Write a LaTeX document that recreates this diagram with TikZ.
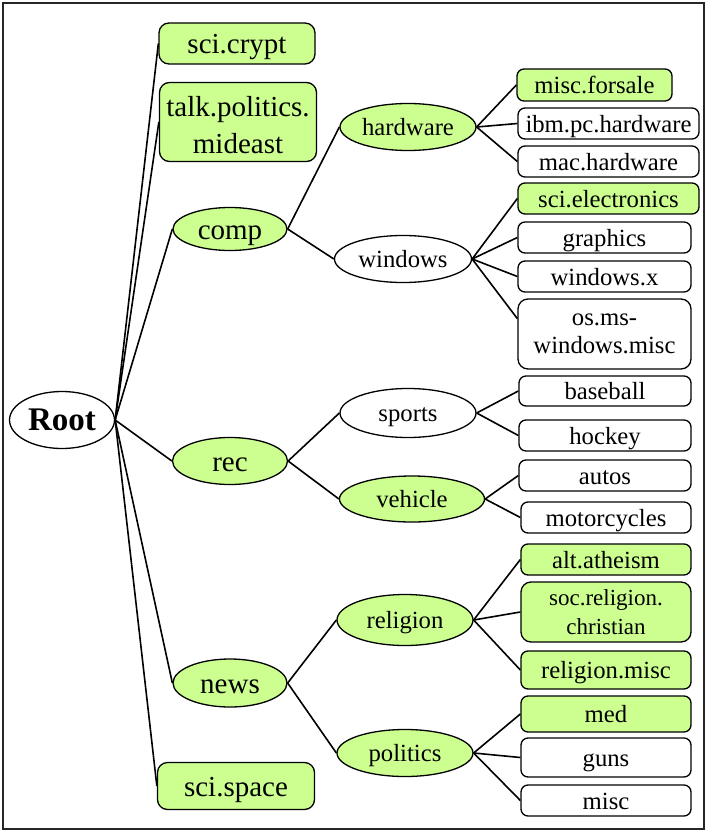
\documentclass[tikz,border=0pt]{standalone}
\usepackage{fontspec}
\setmainfont{Liberation Serif}
\usetikzlibrary{shapes.geometric}
\definecolor{leafgreen}{RGB}{204,255,144}
\begin{document}
\begin{tikzpicture}[x=1pt,y=-1pt,
  every node/.style={inner sep=0pt, line width=1.3pt, draw=black, align=center},
  ell/.style={ellipse},
  box/.style={rectangle, rounded corners=7pt},
  bigbox/.style={rectangle, rounded corners=10pt},
  txt/.style={draw=none, fill=none},
  hl/.style={fill=leafgreen},
  fA/.style={font=\fontsize{29}{37}\selectfont},
  fB/.style={font=\fontsize{24.7}{30}\selectfont},
  fC/.style={font=\fontsize{23}{29}\selectfont},
  tA/.style={fA, text height=20.3pt, text depth=0pt},
  tB/.style={fB, text height=17.8pt, text depth=0pt},
  edge/.style={line width=1.6pt, draw=black}]
\useasboundingbox (0,0) rectangle (709,832);
\draw[line width=1.5pt, draw=black!85] (3,3) rectangle (704,829);

% root
\node[ellipse, text height=21.5pt, text depth=0pt, minimum width=105pt, minimum height=57pt, font=\fontsize{33}{38}\selectfont\bfseries] (root) at (62,420) {Root};

% level 1
\node[bigbox, hl, tA, minimum width=156pt, minimum height=41pt] (crypt) at (237,43.5) {sci.crypt};
\node[bigbox, hl, minimum width=157pt, minimum height=79pt] (mideast) at (238,122) {};
\node[txt, fA] (mideast-t) at (238,125) {talk.politics.\\mideast};
\node[ell, hl, tA, minimum width=114pt, minimum height=43pt] (comp) at (230,229) {comp};
\node[ell, hl, tA, minimum width=115pt, minimum height=47pt] (rec) at (230,461) {rec};
\node[ell, hl, tA, minimum width=114pt, minimum height=48pt] (news) at (230,683) {news};
\node[bigbox, hl, tA, minimum width=157pt, minimum height=47pt] (space) at (236,786) {sci.space};

% level 2
\node[ell, hl, tB, minimum width=136pt, minimum height=47pt] (hardware) at (408,127) {hardware};
\node[ell, tB, minimum width=137pt, minimum height=47pt] (windows) at (403,259) {windows};
\node[ell, tB, minimum width=136pt, minimum height=49pt] (sports) at (408,413) {sports};
\node[ell, hl, tB, minimum width=145pt, minimum height=46pt] (vehicle) at (412,499) {vehicle};
\node[ell, hl, tB, minimum width=136pt, minimum height=51pt] (religion) at (405,620) {religion};
\node[ell, hl, tB, minimum width=136pt, minimum height=47pt] (politics) at (405,753) {politics};

% leaves
\node[box, hl, tB, minimum width=155pt, minimum height=32pt] (forsale) at (594.5,85) {misc.forsale};
\node[box, tB, minimum width=181pt, minimum height=31pt] (ibm) at (608.5,123.5) {ibm.pc.hardware};
\node[box, tB, minimum width=181pt, minimum height=31pt] (mac) at (608.5,161.5) {mac.hardware};
\node[box, hl, tB, minimum width=181pt, minimum height=31pt] (elec) at (608.5,198.5) {sci.electronics};
\node[box, tB, minimum width=173pt, minimum height=31pt] (graphics) at (604.5,237.5) {graphics};
\node[box, tB, minimum width=173pt, minimum height=31pt] (winx) at (604.5,276.5) {windows.x};
\node[bigbox, font=\fontsize{24.7}{28.5}\selectfont, minimum width=173pt, minimum height=70pt] (osms) at (604.5,334) {os.ms-\\windows.misc};
\node[box, tB, minimum width=172pt, minimum height=30pt] (baseball) at (605,391) {baseball};
\node[box, tB, minimum width=172pt, minimum height=31pt] (hockey) at (605,435.5) {hockey};
\node[box, tB, minimum width=172pt, minimum height=31pt] (autos) at (605,475.5) {autos};
\node[box, tB, minimum width=170pt, minimum height=31pt] (moto) at (606,517.5) {motorcycles};
\node[box, hl, tB, minimum width=170pt, minimum height=31pt] (atheism) at (606,559.5) {alt.atheism};
\node[bigbox, hl, fC, minimum width=170pt, minimum height=60pt] (christian) at (606,612) {soc.religion.\\christian};
\node[box, hl, tB, minimum width=170pt, minimum height=38pt] (relmisc) at (606,670) {religion.misc};
\node[box, hl, tB, minimum width=170pt, minimum height=36pt] (med) at (606,714) {med};
\node[box, tB, minimum width=170pt, minimum height=39pt] (guns) at (606,757.5) {guns};
\node[box, tB, minimum width=170pt, minimum height=31pt] (misc) at (606,800.5) {misc};

% edges
\foreach \c in {crypt,mideast,comp,rec,news,space}
  \draw[edge] (root.east) -- (\c.west);
\draw[edge] (comp.east) -- (hardware.west);
\draw[edge] (comp.east) -- (windows.west);
\draw[edge] (rec.east) -- (sports.west);
\draw[edge] (rec.east) -- (vehicle.west);
\draw[edge] (news.east) -- (religion.west);
\draw[edge] (news.east) -- (politics.west);
\foreach \c in {forsale,ibm,mac}
  \draw[edge] (hardware.east) -- (\c.west);
\foreach \c in {elec,graphics,winx}
  \draw[edge] (windows.east) -- (\c.west);
\draw[edge] (windows.east) -- (osms.170);
\foreach \c in {baseball,hockey}
  \draw[edge] (sports.east) -- (\c.west);
\foreach \c in {autos,moto}
  \draw[edge] (vehicle.east) -- (\c.west);
\foreach \c in {atheism,christian,relmisc}
  \draw[edge] (religion.east) -- (\c.west);
\foreach \c in {med,guns,misc}
  \draw[edge] (politics.east) -- (\c.west);
\end{tikzpicture}
\end{document}
